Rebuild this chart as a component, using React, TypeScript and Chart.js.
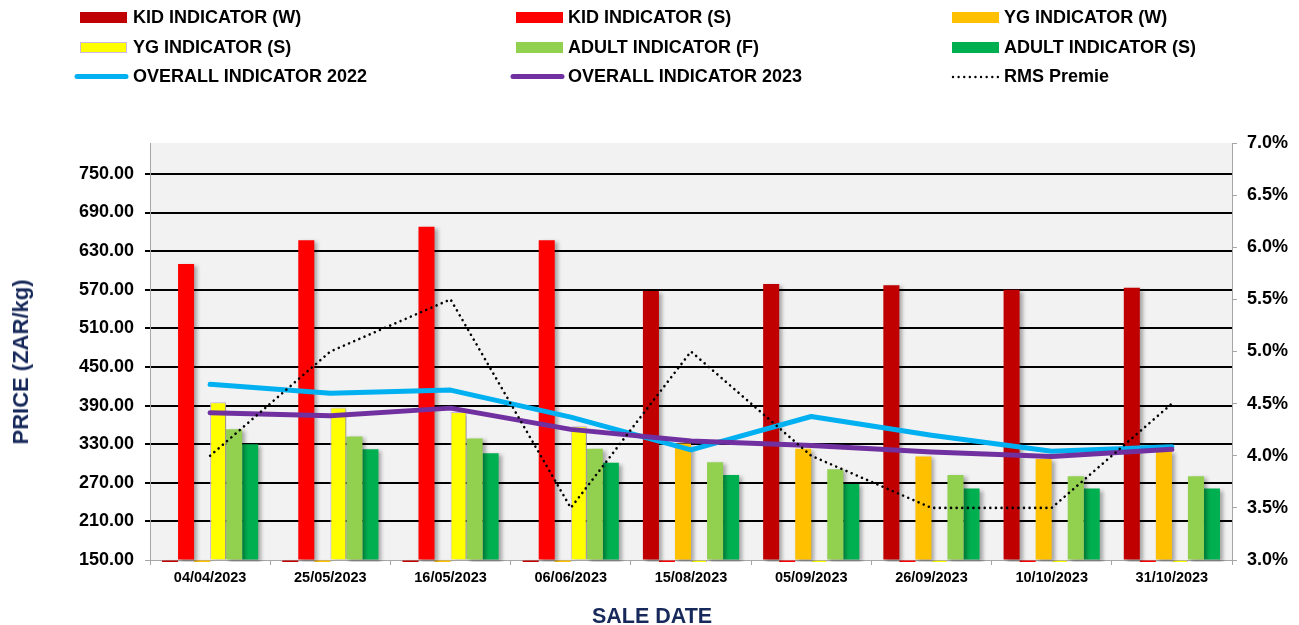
import React, { useEffect, useRef } from 'react';
import { Chart, registerables } from 'chart.js';

Chart.register(...registerables);

const categories = ['04/04/2023', '25/05/2023', '16/05/2023', '06/06/2023', '15/08/2023', '05/09/2023', '26/09/2023', '10/10/2023', '31/10/2023'];

const kidW = [0, 0, 0, 0, 568, 579, 577, 570, 573];
const kidS = [610, 647, 668, 647, 0, 0, 0, 0, 0];
const ygW = [0, 0, 0, 0, 331, 323, 311, 307, 319];
const ygS = [395, 387, 380, 358, 0, 0, 0, 0, 0];
const adultF = [353, 342, 339, 323, 302, 291, 282, 280, 280];
const adultS = [330, 322, 316, 301, 282, 268, 261, 261, 261];
const overall2022 = [423, 409, 414, 372, 321, 373, 344, 319, 326];
const overall2023 = [379, 374, 386, 353, 335, 328, 318, 311, 322];
const rmsPremie = [4.0, 5.0, 5.5, 3.5, 5.0, 4.0, 3.5, 3.5, 4.5];

const priceTicks = [150, 210, 270, 330, 390, 450, 510, 570, 630, 690, 750];
const priceMin = 150;
const priceMax = 798;
const pctTicks = [3.0, 3.5, 4.0, 4.5, 5.0, 5.5, 6.0, 6.5, 7.0];
const pctMin = 3;
const pctMax = 7;

const FONT = '"Liberation Sans", Arial, Helvetica, sans-serif';
const AXIS_GRAY = '#A6A6A6';

const C_KIDW = '#C00000';
const C_KIDS = '#FF0000';
const C_YGW = '#FFC000';
const C_YGS = '#FFFF00';
const C_YGS_BORDER = '#CDB6E6';
const C_ADF = '#92D050';
const C_ADS = '#00B050';
const C_2022 = '#00B0F0';
const C_2023 = '#7030A0';

type LegendItem = { label: string; kind: 'bar' | 'line' | 'dot'; color: string; border?: string; col: number; row: number };

const legendItems: LegendItem[] = [
  { label: 'KID INDICATOR (W)', kind: 'bar', color: C_KIDW, col: 0, row: 0 },
  { label: 'KID INDICATOR (S)', kind: 'bar', color: C_KIDS, col: 1, row: 0 },
  { label: 'YG INDICATOR (W)', kind: 'bar', color: C_YGW, col: 2, row: 0 },
  { label: 'YG INDICATOR (S)', kind: 'bar', color: C_YGS, border: C_YGS_BORDER, col: 0, row: 1 },
  { label: 'ADULT INDICATOR (F)', kind: 'bar', color: C_ADF, col: 1, row: 1 },
  { label: 'ADULT INDICATOR (S)', kind: 'bar', color: C_ADS, col: 2, row: 1 },
  { label: 'OVERALL INDICATOR 2022', kind: 'line', color: C_2022, col: 0, row: 2 },
  { label: 'OVERALL INDICATOR 2023', kind: 'line', color: C_2023, col: 1, row: 2 },
  { label: 'RMS Premie', kind: 'dot', color: '#000000', col: 2, row: 2 },
];

const colSwatchX = [80, 516, 952];
const colTextX = [133, 568, 1004];
const rowY = [17, 46.5, 76];

export default function App() {
  const ref = useRef<HTMLCanvasElement>(null);

  useEffect(() => {
    if (!ref.current) return;

    const bgPlugin = {
      id: 'plotBg',
      beforeDraw(chart: any) {
        const { ctx, chartArea: a } = chart;
        ctx.save();
        ctx.fillStyle = '#F2F2F2';
        ctx.fillRect(a.left, a.top, a.right - a.left, a.bottom - a.top);
        ctx.restore();
      },
    };

    const shadowPlugin = {
      id: 'barShadow',
      beforeDatasetDraw(chart: any, args: any) {
        if (args.meta.type === 'bar') {
          const ctx = chart.ctx;
          ctx.save();
          ctx.shadowColor = 'rgba(0,0,0,0.32)';
          ctx.shadowBlur = 4;
          ctx.shadowOffsetX = 3;
          ctx.shadowOffsetY = 2;
        }
      },
      afterDatasetDraw(chart: any, args: any) {
        if (args.meta.type === 'bar') chart.ctx.restore();
      },
    };

    const barBase = {
      type: 'bar' as const,
      yAxisID: 'y',
      order: 4,
      base: priceMin,
      categoryPercentage: 0.8,
      barPercentage: 1.0,
      borderWidth: 0,
      clip: { left: 0, top: 0, right: 0, bottom: 2 },
    };

    const chart = new Chart(ref.current, {
      type: 'bar',
      data: {
        labels: categories,
        datasets: [
          { ...barBase, label: 'KID INDICATOR (W)', data: kidW, backgroundColor: C_KIDW },
          { ...barBase, label: 'KID INDICATOR (S)', data: kidS, backgroundColor: C_KIDS },
          { ...barBase, label: 'YG INDICATOR (W)', data: ygW, backgroundColor: C_YGW },
          { ...barBase, label: 'YG INDICATOR (S)', data: ygS, backgroundColor: C_YGS, borderColor: C_YGS_BORDER, borderWidth: 1 },
          { ...barBase, label: 'ADULT INDICATOR (F)', data: adultF, backgroundColor: C_ADF },
          { ...barBase, label: 'ADULT INDICATOR (S)', data: adultS, backgroundColor: C_ADS },
          {
            type: 'line', label: 'OVERALL INDICATOR 2022', data: overall2022, yAxisID: 'y', order: 3,
            borderColor: C_2022, backgroundColor: C_2022, borderWidth: 5, pointRadius: 0, tension: 0,
            borderCapStyle: 'round', borderJoinStyle: 'round', fill: false,
          } as any,
          {
            type: 'line', label: 'OVERALL INDICATOR 2023', data: overall2023, yAxisID: 'y', order: 2,
            borderColor: C_2023, backgroundColor: C_2023, borderWidth: 5, pointRadius: 0, tension: 0,
            borderCapStyle: 'round', borderJoinStyle: 'round', fill: false,
          } as any,
          {
            type: 'line', label: 'RMS Premie', data: rmsPremie, yAxisID: 'y1', order: 1,
            borderColor: '#000000', backgroundColor: '#000000', borderWidth: 2.6, pointRadius: 0, tension: 0,
            borderDash: [0.01, 5.6], borderCapStyle: 'round', fill: false,
          } as any,
        ] as any,
      },
      options: {
        responsive: false,
        maintainAspectRatio: false,
        animation: false,
        devicePixelRatio: 1,
        layout: { padding: { top: 143, left: 0, right: 0, bottom: 0 } },
        plugins: {
          legend: { display: false },
          tooltip: { enabled: false },
        },
        scales: {
          x: {
            type: 'category',
            offset: true,
            grid: {
              offset: true,
              drawOnChartArea: false,
              drawTicks: true,
              tickLength: 5,
              color: AXIS_GRAY,
              tickColor: AXIS_GRAY,
              lineWidth: 1,
            },
            border: { display: true, color: AXIS_GRAY, width: 1 },
            ticks: {
              color: '#000000',
              font: { family: FONT, size: 14.5, weight: 'bold' },
              padding: 4,
              maxRotation: 0,
              autoSkip: false,
            },
            afterFit(s: any) { s.height = 65; },
          },
          y: {
            type: 'linear',
            position: 'left',
            min: priceMin,
            max: priceMax,
            ticks: {
              color: '#000000',
              font: { family: FONT, size: 18, weight: 'bold' },
              padding: 11,
              callback: (v: any) => Number(v).toFixed(2),
            },
            afterBuildTicks(s: any) {
              s.ticks = priceTicks.map((v) => ({ value: v }));
            },
            grid: {
              color: (c: any) => (c.tick && c.tick.value === priceMin ? AXIS_GRAY : '#000000'),
              tickColor: (c: any) => (c.tick && c.tick.value === priceMin ? AXIS_GRAY : '#000000'),
              lineWidth: (c: any) => (c.tick && c.tick.value === priceMin ? 1 : 2),
              tickLength: 5,
            },
            border: { display: true, color: AXIS_GRAY, width: 1 },
            afterFit(s: any) { s.width = 150; },
          },
          y1: {
            type: 'linear',
            position: 'right',
            min: pctMin,
            max: pctMax,
            ticks: {
              color: '#000000',
              font: { family: FONT, size: 18, weight: 'bold' },
              padding: 10,
              callback: (v: any) => Number(v).toFixed(1) + '%',
            },
            afterBuildTicks(s: any) {
              s.ticks = pctTicks.map((v) => ({ value: v }));
            },
            grid: {
              drawOnChartArea: false,
              tickLength: 5,
              color: AXIS_GRAY,
              tickColor: AXIS_GRAY,
              lineWidth: 1,
            },
            border: { display: true, color: AXIS_GRAY, width: 1 },
            afterFit(s: any) { s.width = 67; },
          },
        },
      } as any,
      plugins: [bgPlugin, shadowPlugin],
    });

    return () => chart.destroy();
  }, []);

  const titleColor = '#17295A';

  return (
    <div style={{ position: 'absolute', left: 0, top: 0, width: 1299, height: 625, background: '#FFFFFF', overflow: 'hidden', fontFamily: FONT }}>
      <canvas ref={ref} width={1299} height={625} style={{ position: 'absolute', left: 0, top: 0, width: 1299, height: 625, display: 'block' }} />
      {legendItems.map((it) => {
        const cy = rowY[it.row];
        const sx = colSwatchX[it.col];
        const tx = colTextX[it.col];
        let swatch: React.ReactNode = null;
        if (it.kind === 'bar') {
          swatch = (
            <div
              style={{
                position: 'absolute',
                left: sx,
                top: cy - 5,
                width: 47,
                height: 11,
                boxSizing: 'border-box',
                background: it.color,
                border: it.border ? `1.5px solid ${it.border}` : 'none',
              }}
            />
          );
        } else if (it.kind === 'line') {
          swatch = (
            <svg style={{ position: 'absolute', left: sx - 6, top: cy - 8, overflow: 'visible' }} width={60} height={16}>
              <line x1={3} y1={8.5} x2={52} y2={8.5} stroke={it.color} strokeWidth={5} strokeLinecap="round" />
            </svg>
          );
        } else {
          swatch = (
            <svg style={{ position: 'absolute', left: sx, top: cy - 8, overflow: 'visible' }} width={50} height={16}>
              <line x1={1} y1={9} x2={46} y2={9} stroke={it.color} strokeWidth={2.4} strokeLinecap="round" strokeDasharray="0.01 5.6" />
            </svg>
          );
        }
        return (
          <React.Fragment key={it.label}>
            {swatch}
            <div
              style={{
                position: 'absolute',
                left: tx,
                top: cy - 11,
                height: 22,
                lineHeight: '22px',
                fontSize: 18,
                fontWeight: 'bold',
                color: '#000000',
                whiteSpace: 'nowrap',
              }}
            >
              {it.label}
            </div>
          </React.Fragment>
        );
      })}
      <div
        style={{
          position: 'absolute',
          left: 21,
          top: 362,
          transform: 'translate(-50%, -50%) rotate(-90deg)',
          fontSize: 22,
          fontWeight: 'bold',
          color: titleColor,
          whiteSpace: 'nowrap',
          lineHeight: '26px',
        }}
      >
        PRICE (ZAR/kg)
      </div>
      <div
        style={{
          position: 'absolute',
          left: 652,
          top: 616,
          transform: 'translate(-50%, -50%)',
          fontSize: 21.5,
          fontWeight: 'bold',
          color: titleColor,
          whiteSpace: 'nowrap',
          lineHeight: '26px',
        }}
      >
        SALE DATE
      </div>
    </div>
  );
}
